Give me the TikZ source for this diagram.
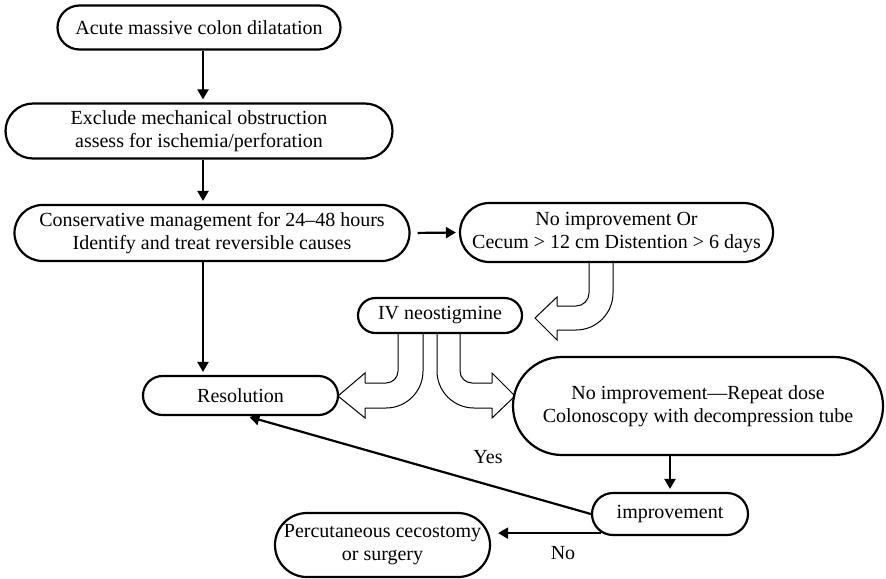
\documentclass[tikz,border=0pt]{standalone}
\usepackage{fontspec}
\setmainfont{Liberation Serif}
\usetikzlibrary{arrows.meta}

\begin{document}
\begin{tikzpicture}[x=0.5pt, y=-0.5pt, >={Triangle[length=5pt,width=5.5pt]},
		pill/.style 2 args={draw, line width=1.1pt, minimum width=#1, minimum height=#2,
			rounded corners=#2/2, align=center, inner sep=1pt,
			font=\fontsize{10}{11.5}\selectfont},
		arr/.style={->, line width=1.1pt, shorten >=1.5pt},
		hollow/.style={line width=0.5pt}]
	\useasboundingbox (0,0) rectangle (886,578);
	% boxes
	\node[pill={141.5pt}{22pt}] (acute) at (199,27.5) {Acute massive colon dilatation};
	\node[pill={193.5pt}{27.5pt}] (excl) at (199,131) {Exclude mechanical obstruction\\assess for ischemia/perforation};
	\node[pill={197.5pt}{28pt}] (cons) at (212,233) {Conservative management for 24--48 hours\\Identify and treat reversible causes};
	\node[pill={156.5pt}{29.5pt}] (noimp) at (616.5,232.5) {No improvement Or\\Cecum > 12 cm Distention > 6 days};
	\node[pill={82pt}{17.5pt}] (neo) at (440,315.5) {IV neostigmine};
	\node[pill={97.5pt}{19.5pt}] (res) at (240.5,395.5) {Resolution};
	\node[pill={185pt}{49pt}] (rep) at (698,406) {No improvement---Repeat dose\\Colonoscopy with decompression tube};
	\node[pill={78pt}{21pt}] (impr) at (670,514) {improvement};
	\node[pill={107.5pt}{32pt}] (perc) at (382.5,545) {Percutaneous cecostomy\\or surgery};
	\node (yes) at (488,457) {Yes};
	\node (no) at (563,553) {No};
	% solid connectors
	\coordinate (spine) at (203,0);
	\draw[arr] (acute.south -| spine) -- (excl.north -| spine);
	\draw[arr] (excl.south -| spine) -- (cons.north -| spine);
	\draw[arr] (cons.south -| spine) -- (res.north -| spine);
	\draw[arr, shorten <=3.5pt] (cons.east) -- (noimp.west);
	\draw[arr] (rep.south -| impr.north) -- (impr.north);
	\draw[arr] (impr.west) -- ([xshift=3pt]res.south);
	\draw[arr, shorten >=3.5pt] ([shift={(5pt,1.5pt)}]impr.south west) coordinate (nostart) -- (nostart -| perc.east);
	% hollow bent arrows
	\draw[hollow, rounded corners=6.5pt] (589,262) -- (589,306) -- (557,306);
	\draw[hollow] (557,306) -- (557,297) -- (535,318) -- (557,340) -- (557,330);
	\draw[hollow, rounded corners=18.5pt] (557,330) -- (613,330) -- (613,262);
	\draw[hollow, rounded corners=6pt] (398,333) -- (398,383) -- (365,383);
	\draw[hollow] (365,383) -- (365,373) -- (338,396) -- (365,418) -- (365,408);
	\draw[hollow, rounded corners=18.5pt] (365,408) -- (423,408) -- (423,333);
	\draw[hollow, rounded corners=6pt] (460,333) -- (460,383) -- (492,383);
	\draw[hollow] (492,383) -- (492,373) -- (515,396) -- (492,418) -- (492,408);
	\draw[hollow, rounded corners=18.5pt] (492,408) -- (437,408) -- (437,333);
\end{tikzpicture}
\end{document}
